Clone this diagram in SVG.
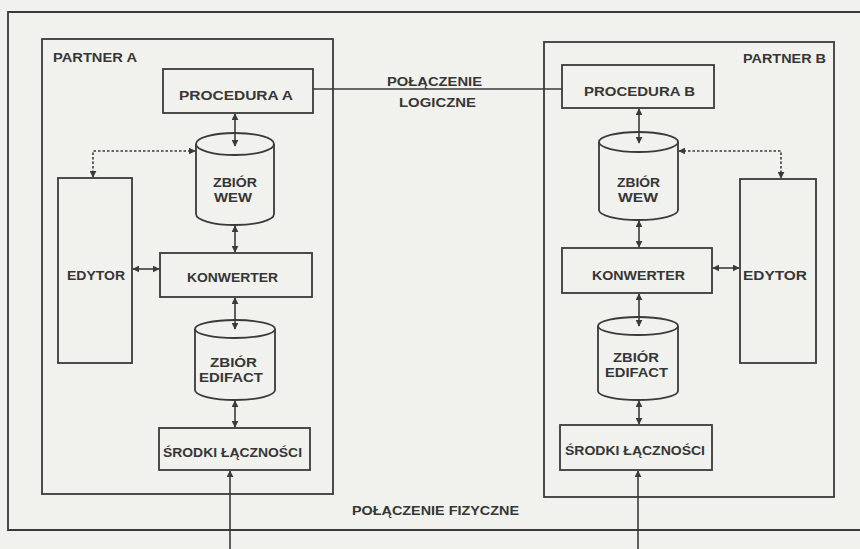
<svg xmlns="http://www.w3.org/2000/svg" width="860" height="549" viewBox="0 0 860 549">
  <defs>
    <marker id="ah" viewBox="0 0 10 10" refX="9" refY="5" markerWidth="7" markerHeight="7" markerUnits="userSpaceOnUse" orient="auto-start-reverse">
      <path d="M0,0 L10,5 L0,10 z" fill="#3a3a3a"/>
    </marker>
  </defs>
  <style>
    .frame { fill: none; stroke: #3a3a3a; stroke-width: 1.8; }
    .box { fill: none; stroke: #3a3a3a; stroke-width: 1.8; }
    .cyl { fill: none; stroke: #3a3a3a; stroke-width: 1.8; }
    .lbl { font-family: "Liberation Sans", "DejaVu Sans", sans-serif; font-weight: bold; font-size: 13.5px; fill: #363636; }
    .link { fill: none; stroke: #3a3a3a; stroke-width: 1.6; }
    .dbl { marker-start: url(#ah); marker-end: url(#ah); }
    .one { marker-end: url(#ah); }
    .dot { stroke-dasharray: 2.5 2; }
  </style>

  <!-- paper -->
  <rect x="0" y="0" width="860" height="549" fill="#f1f1ee"/>

  <!-- outer frame, open on the right -->
  <path class="frame" d="M860,12 H8 V530 H860"/>
  <text class="lbl" x="352" y="515" textLength="167" lengthAdjust="spacingAndGlyphs">POŁĄCZENIE FIZYCZNE</text>

  <!-- partner A -->
  <g id="partner-a">
    <rect class="frame" x="42" y="39" width="291" height="455"/>
    <text class="lbl" x="53" y="62" textLength="84" lengthAdjust="spacingAndGlyphs">PARTNER A</text>
  </g>
  <g id="procedura-a">
    <rect class="box" x="163" y="69" width="150" height="44"/>
    <text class="lbl" x="179" y="100" textLength="114" lengthAdjust="spacingAndGlyphs">PROCEDURA A</text>
  </g>
  <g id="wew-a">
    <path class="cyl" d="M196,144 V214 A39,11 0 0 0 274,214 V144"/>
    <ellipse class="cyl" cx="235" cy="144" rx="39" ry="11"/>
    <text class="lbl" x="213" y="187" textLength="44" lengthAdjust="spacingAndGlyphs">ZBIÓR</text>
    <text class="lbl" x="214" y="202" textLength="38" lengthAdjust="spacingAndGlyphs">WEW</text>
  </g>
  <g id="edytor-a">
    <rect class="box" x="58" y="178" width="74" height="185"/>
    <text class="lbl" x="67" y="280" textLength="58" lengthAdjust="spacingAndGlyphs">EDYTOR</text>
  </g>
  <g id="konwerter-a">
    <rect class="box" x="160" y="253" width="152" height="44"/>
    <text class="lbl" x="187" y="282" textLength="91" lengthAdjust="spacingAndGlyphs">KONWERTER</text>
  </g>
  <g id="edifact-a">
    <path class="cyl" d="M195,329 V390 A40,10 0 0 0 275,390 V329"/>
    <ellipse class="cyl" cx="235" cy="329" rx="40" ry="9"/>
    <text class="lbl" x="210" y="367" textLength="47" lengthAdjust="spacingAndGlyphs">ZBIÓR</text>
    <text class="lbl" x="199" y="382" textLength="64" lengthAdjust="spacingAndGlyphs">EDIFACT</text>
  </g>
  <g id="srodki-a">
    <rect class="box" x="159" y="428" width="151" height="42"/>
    <text class="lbl" x="163" y="457" textLength="139" lengthAdjust="spacingAndGlyphs">ŚRODKI ŁĄCZNOŚCI</text>
  </g>

  <!-- partner B -->
  <g id="partner-b">
    <rect class="frame" x="544" y="42" width="290" height="455"/>
    <text class="lbl" x="743" y="63" textLength="83" lengthAdjust="spacingAndGlyphs">PARTNER B</text>
  </g>
  <g id="procedura-b">
    <rect class="box" x="562" y="65" width="152" height="43"/>
    <text class="lbl" x="584" y="96" textLength="111" lengthAdjust="spacingAndGlyphs">PROCEDURA B</text>
  </g>
  <g id="wew-b">
    <path class="cyl" d="M599,142 V210 A39.5,10 0 0 0 678,210 V142"/>
    <ellipse class="cyl" cx="638.5" cy="142" rx="39.5" ry="10"/>
    <text class="lbl" x="617" y="187" textLength="43" lengthAdjust="spacingAndGlyphs">ZBIÓR</text>
    <text class="lbl" x="618" y="202" textLength="40" lengthAdjust="spacingAndGlyphs">WEW</text>
  </g>
  <g id="edytor-b">
    <rect class="box" x="740" y="179" width="76" height="184"/>
    <text class="lbl" x="743" y="280" textLength="64" lengthAdjust="spacingAndGlyphs">EDYTOR</text>
  </g>
  <g id="konwerter-b">
    <rect class="box" x="562" y="248" width="150" height="45"/>
    <text class="lbl" x="592" y="280" textLength="93" lengthAdjust="spacingAndGlyphs">KONWERTER</text>
  </g>
  <g id="edifact-b">
    <path class="cyl" d="M598,326 V391 A40,9 0 0 0 678,391 V326"/>
    <ellipse class="cyl" cx="638" cy="326" rx="40" ry="9"/>
    <text class="lbl" x="613" y="362" textLength="46" lengthAdjust="spacingAndGlyphs">ZBIÓR</text>
    <text class="lbl" x="605" y="377" textLength="63" lengthAdjust="spacingAndGlyphs">EDIFACT</text>
  </g>
  <g id="srodki-b">
    <rect class="box" x="560" y="425" width="152" height="45"/>
    <text class="lbl" x="565" y="455" textLength="140" lengthAdjust="spacingAndGlyphs">ŚRODKI ŁĄCZNOŚCI</text>
  </g>

  <!-- connectors -->
  <g id="connectors">
    <!-- logical connection between the two procedures -->
    <line class="link" x1="313" y1="89" x2="562" y2="89"/>
    <text class="lbl" x="387" y="86" textLength="95" lengthAdjust="spacingAndGlyphs">POŁĄCZENIE</text>
    <text class="lbl" x="399" y="107" textLength="77" lengthAdjust="spacingAndGlyphs">LOGICZNE</text>

    <!-- partner A chain -->
    <line class="link dbl" x1="235" y1="114" x2="235" y2="146"/>
    <line class="link dbl" x1="235" y1="226" x2="235" y2="252"/>
    <line class="link dbl" x1="235" y1="298" x2="235" y2="329"/>
    <line class="link dbl" x1="235" y1="401" x2="235" y2="427"/>
    <line class="link dbl" x1="133" y1="269" x2="159" y2="269"/>
    <path class="link dbl dot" d="M195,151 H93 V177"/>
    <line class="link one" x1="230" y1="549" x2="230" y2="471"/>

    <!-- partner B chain -->
    <line class="link dbl" x1="639" y1="109" x2="639" y2="143"/>
    <line class="link dbl" x1="639" y1="221" x2="639" y2="247"/>
    <line class="link dbl" x1="639" y1="294" x2="639" y2="326"/>
    <line class="link dbl" x1="639" y1="401" x2="639" y2="424"/>
    <line class="link dbl" x1="713" y1="268" x2="739" y2="268"/>
    <path class="link dbl dot" d="M679,151 H781 V178"/>
    <line class="link one" x1="638" y1="549" x2="638" y2="471"/>
  </g>
</svg>
